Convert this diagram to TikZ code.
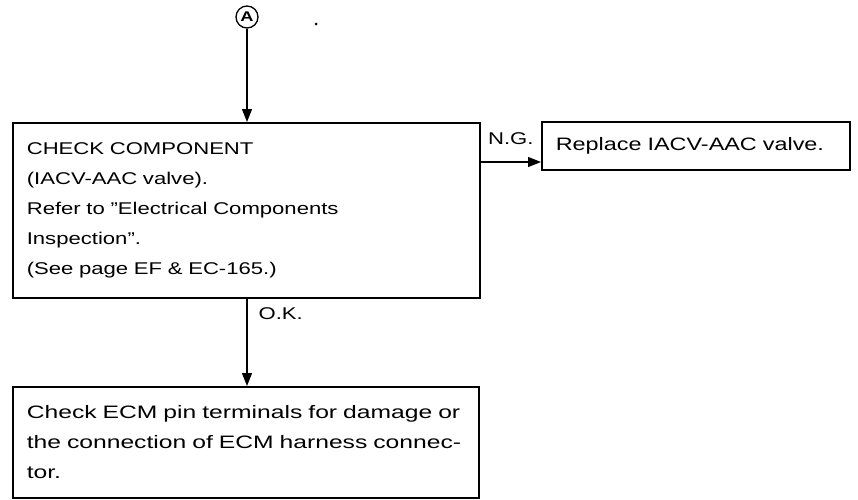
\documentclass[tikz,border=0pt]{standalone}
\usepackage{fontspec}
\setmainfont[FakeStretch=1.3]{Liberation Sans}
\newfontfamily\widefont[FakeStretch=1.37]{Liberation Sans}
\usetikzlibrary{
    calc,
    arrows.meta
}
\tikzset{
    box/.style={draw, line width=1.6pt, rectangle, anchor=north west,
        inner xsep=14pt, inner ysep=0pt, align=left,
        font=\fontsize{17}{30}\selectfont},
    flow/.style={line width=1.3pt, -{Triangle[length=13pt,width=10pt]}},
    tag/.style={inner sep=0pt, font=\fontsize{17}{20}\selectfont}
}

\begin{document}
\begin{tikzpicture}[x=1pt,y=-1pt]
\useasboundingbox (0,0) rectangle (858,499);

\node[circle, draw, line width=1.3pt, minimum size=22pt, inner sep=0pt,
    font=\bfseries\fontsize{14}{14}\selectfont] (A) at (247,17) {A};
\fill (316,24) circle (1.5pt);

% boxes
\node[box, text width=439pt, minimum height=175pt] (comp) at (12,122)
    {CHECK COMPONENT\\(IACV-AAC valve).\\Refer to ''Electrical Components\\Inspection''.\\(See page EF \& EC-165.)};
\node[box, text width=280pt, minimum height=48pt,
    font=\fontsize{18}{30}\selectfont] (valve) at (541,121)
    {Replace IACV-AAC valve.};
\node[box, text width=438pt, minimum height=111pt,
    font=\widefont\fontsize{18}{30}\selectfont] (ecm) at (12,386)
    {Check ECM pin terminals for damage or\\the connection of ECM harness connec-\\tor.};

% arrows
\coordinate (ng) at (0,162);
\draw[flow] (A) -- (A |- comp.north);
\draw[flow] (comp.east |- ng) -- node[tag, anchor=base, yshift=18pt] {N.G.} (valve.west |- ng);
\draw[flow] (A |- comp.south) -- node[tag, pos=0.24, anchor=base west, xshift=11pt] {O.K.} (A |- ecm.north);
\end{tikzpicture}
\end{document}
